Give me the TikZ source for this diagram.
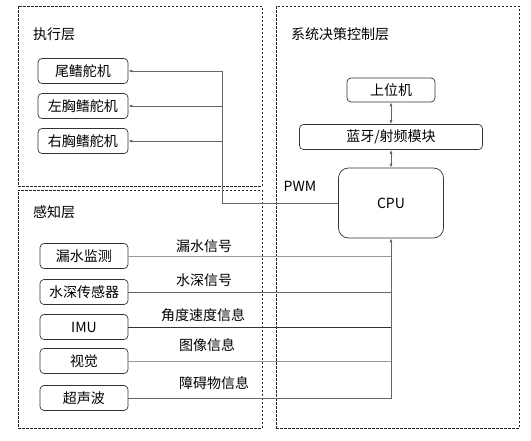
\documentclass[tikz,border=0pt]{standalone}
\usepackage{fontspec}
\setmainfont{Noto Sans CJK SC}
\usetikzlibrary{arrows.meta}
\colorlet{edge}{black!80}
\colorlet{wire}{black!60}
\colorlet{faint}{black!40}
\newcommand{\txt}{\fontsize{14}{17}\selectfont}

\begin{document}
\begin{tikzpicture}[x=1pt,y=-1pt,
    layer/.style={draw=black!85,dash pattern=on 2.5pt off 1.5pt,line width=0.85pt,inner sep=0pt},
    title/.style={anchor=west,font=\txt,inner sep=0pt},
    box/.style={draw=edge,line width=0.7pt,rounded corners=4pt,minimum height=25pt,
                inner sep=0pt,font=\txt},
    sig/.style={draw=wire,line width=0.7pt},
    lbl/.style={font=\txt,inner sep=0pt},
    tip/.style={-{Latex[length=4pt,width=3pt]}}
]
\useasboundingbox (0,0) rectangle (531,440);

\node[layer,minimum width=244pt,minimum height=180pt] (exec) at (140,96) {};
\node[layer,minimum width=244pt,minimum height=238pt] (sense) at (140,309) {};
\node[layer,minimum width=243pt,minimum height=422pt] (ctrl) at (397.5,217) {};

\node[title] (t-exec) at (33,34) {执行层};
\node[title] (t-ctrl) at (291,34) {系统决策控制层};
\node[title] (t-sense) at (33,212) {感知层};

\node[box,minimum width=90pt] (tail) at (83,71) {尾鳍舵机};
\node[box,minimum width=90pt] (lfin) at (83,106) {左胸鳍舵机};
\node[box,minimum width=90pt] (rfin) at (83,141) {右胸鳍舵机};

\node[box,minimum width=88pt,minimum height=24pt] (host) at (391,90) {上位机};
\node[box,minimum width=183pt] (radio) at (391,137) {蓝牙/射频模块};
\node[box,minimum width=105pt,minimum height=70pt,rounded corners=10pt] (cpu) at (391,203) {CPU};

\node[box,minimum width=88pt] (leak) at (84,256) {漏水监测};
\node[box,minimum width=88pt] (depth) at (84,292) {水深传感器};
\node[box,minimum width=88pt] (imu) at (84,327) {IMU};
\node[box,minimum width=88pt] (cam) at (84,361) {视觉};
\node[box,minimum width=88pt] (sonar) at (84,398) {超声波};

\draw[sig,{Latex[length=4pt,width=3pt]}-{Latex[length=4pt,width=3pt]}] (host) -- (radio);
\draw[sig,{Latex[length=4pt,width=3pt]}-{Latex[length=4pt,width=3pt]}] (radio) -- (cpu);

\coordinate (pwm) at (222,203);
\draw[sig,tip] (cpu.west) -- (pwm) |- (tail.east);
\draw[sig,tip] (pwm) |- (lfin.east);
\draw[sig,tip] (pwm) |- (rfin.east);
\node[lbl] (l-pwm) at (300,186) {PWM};

\draw[sig,draw=faint] (leak.east) -- (leak.east -| cpu.south);
\draw[sig] (depth.east) -- (depth.east -| cpu.south);
\draw[sig,draw=edge] (imu.east) -- (imu.east -| cpu.south);
\draw[sig,draw=faint] (cam.east) -- (cam.east -| cpu.south);
\draw[sig,tip] (sonar.east) -| (cpu.south);

\node[lbl] (l-leak) at (204,246) {漏水信号};
\node[lbl] (l-depth) at (204,280) {水深信号};
\node[lbl] (l-imu) at (203,315) {角度速度信息};
\node[lbl] (l-cam) at (207,345) {图像信息};
\node[lbl] (l-sonar) at (214,383) {障碍物信息};

\end{tikzpicture}
\end{document}
